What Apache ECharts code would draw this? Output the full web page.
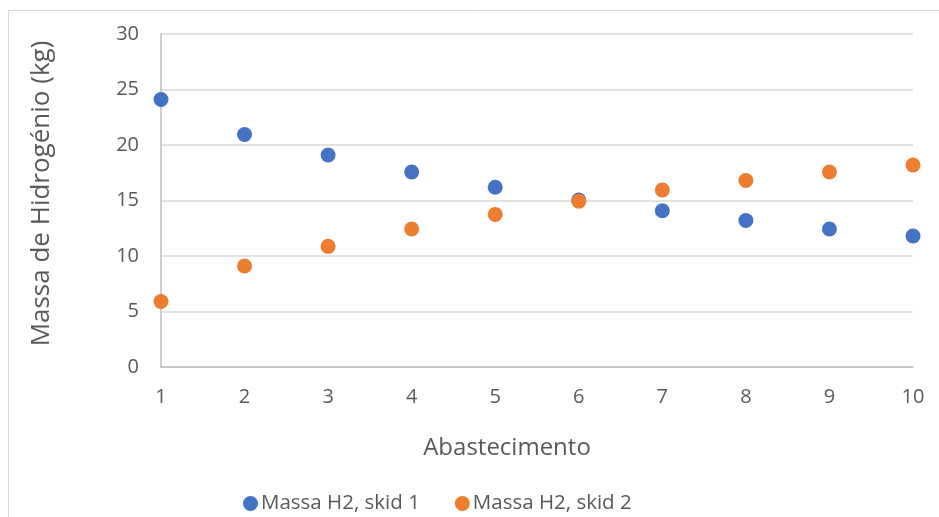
<!DOCTYPE html>
<html><head><meta charset="utf-8">
<script src="https://cdn.jsdelivr.net/npm/echarts@6/dist/echarts.min.js"></script>
<style>html,body{margin:0;padding:0;background:#fff}#c{width:939px;height:517px}</style>
</head><body><div id="c"></div>
<script>
const abastecimento = [1,2,3,4,5,6,7,8,9,10];
const skid1 = [24.1, 20.95, 19.1, 17.57, 16.2, 15.05, 14.08, 13.2, 12.43, 11.8];
const skid2 = [5.9, 9.1, 10.87, 12.43, 13.75, 14.93, 15.95, 16.8, 17.57, 18.2];
const seriesNames = ['Massa H2, skid 1', 'Massa H2, skid 2'];
const xTitle = 'Abastecimento';
const yTitle = 'Massa de Hidrogénio (kg)';
const font = 'Open Sans';
const chart = echarts.init(document.getElementById('c'));
chart.setOption({
  animation: false,
  textStyle: {fontFamily: font},
  graphic: [{type:'rect', shape:{x:8.5,y:10.5,width:940,height:520}, style:{fill:'none', stroke:'#d9d9d9', lineWidth:1}, silent:true}],
  grid: {left:161, right:26, top:34, bottom:150},
  legend: {
    bottom: -2, left: 238,
    icon: 'circle', itemWidth: 15, itemHeight: 15, itemGap: 35,
    textStyle: {fontFamily: font, fontSize: 20.5, color:'#595959', padding:[0,0,0,-2]},
    data: seriesNames
  },
  xAxis: {
    type:'value', min:1, max:10, interval:1,
    name: xTitle, nameLocation:'middle', nameGap:69,
    nameTextStyle:{fontFamily:font, fontSize:24, color:'#595959', padding:[0,60,0,0]},
    axisLine:{show:true, lineStyle:{color:'#bfbfbf', width:1.5}},
    axisTick:{show:false},
    axisLabel:{fontFamily:font, fontSize:20, color:'#595959', margin:20},
    splitLine:{show:false}
  },
  yAxis: {
    type:'value', min:0, max:30, interval:5,
    name: yTitle, nameLocation:'middle', nameGap:106,
    nameTextStyle:{fontFamily:font, fontSize:26, color:'#595959', padding:[0,0,0,14]},
    axisLine:{show:true, onZero:false, lineStyle:{color:'#bfbfbf', width:1.5}},
    axisTick:{show:false},
    axisLabel:{fontFamily:font, fontSize:20, color:'#595959', margin:22},
    splitLine:{show:true, lineStyle:{color:'#d9d9d9', width:1.5}}
  },
  series: [
    {name: seriesNames[0], type:'scatter', symbolSize:15, itemStyle:{color:'#4472C4', opacity:1},
     data: abastecimento.map((x,i)=>[x, skid1[i]])},
    {name: seriesNames[1], type:'scatter', symbolSize:15, itemStyle:{color:'#ED7D31', opacity:1},
     data: abastecimento.map((x,i)=>[x, skid2[i]])}
  ]
});
</script></body></html>
